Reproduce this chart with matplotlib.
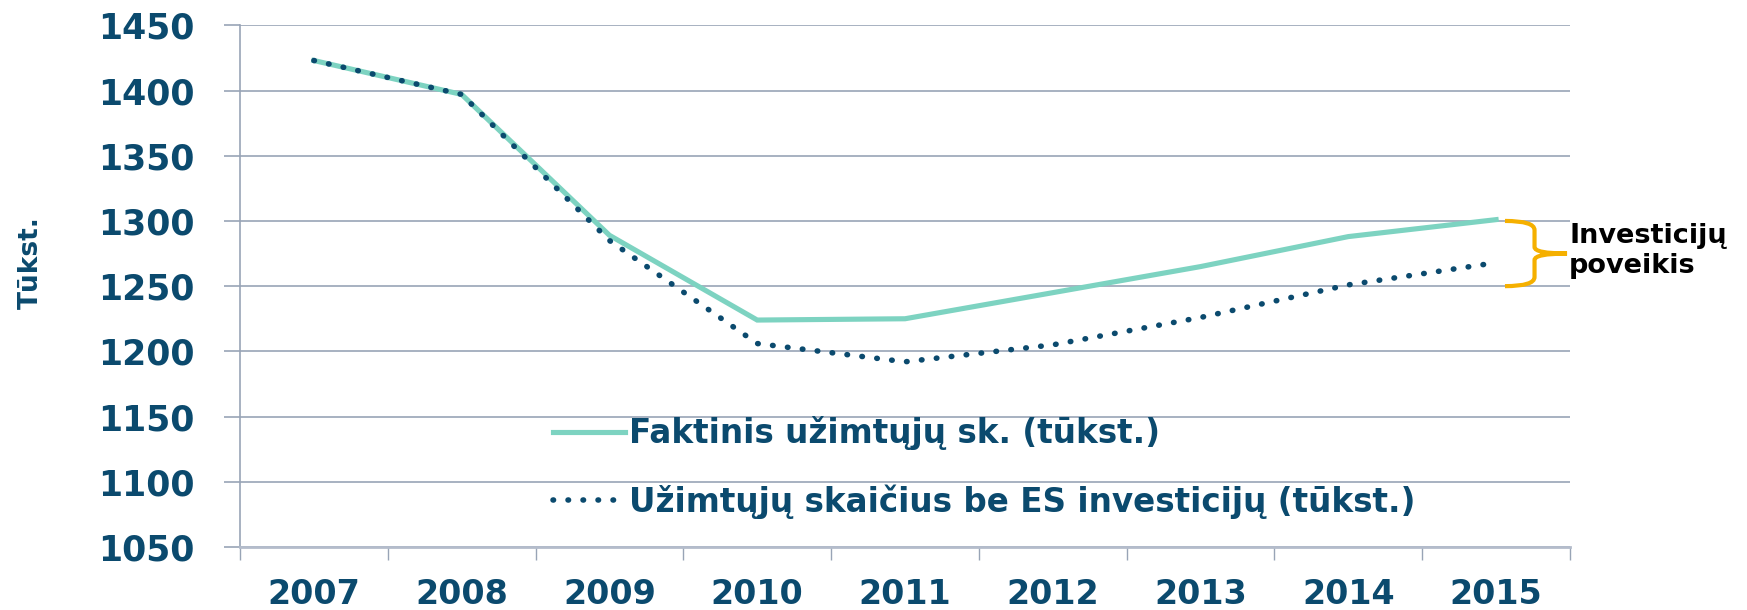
import matplotlib
matplotlib.use("Agg")
import matplotlib.pyplot as plt
from matplotlib.path import Path
from matplotlib.patches import PathPatch
from matplotlib.lines import Line2D

years = ["2007", "2008", "2009", "2010", "2011", "2012", "2013", "2014", "2015"]
faktinis = [1423, 1397, 1289, 1224, 1225, 1245, 1265, 1288, 1301]
be_es = [1423, 1397, 1285, 1206, 1192, 1205, 1226, 1251, 1268]
yticks = [1050, 1100, 1150, 1200, 1250, 1300, 1350, 1400, 1450]

label_fakt = "Faktinis užimtųjų sk. (tūkst.)"
label_be = "Užimtųjų skaičius be ES investicijų (tūkst.)"
ylabel = "Tūkst."
brace_text = "Investicijų\npoveikis"

NAVY = "#0b4a6e"
TEAL = "#7dd3c1"
GRID = "#98a4b6"
ORANGE = "#f5b000"

plt.rcParams['font.family'] = ['DejaVu Sans']

W, H = 1747, 610
fig = plt.figure(figsize=(W / 100, H / 100), dpi=100)
ax = fig.add_axes([240 / W, 1 - 547 / H, 1330 / W, (547 - 25.3) / H])

DOTS = (0, (0.1, 2.6))

x = list(range(len(years)))
ax.plot(x, faktinis, color=TEAL, lw=3.7, solid_joinstyle='miter', zorder=3)
ax.plot(x, be_es, color=NAVY, lw=4.0, linestyle=DOTS,
        dash_capstyle='round', zorder=4)

ax.set_xlim(-0.5, len(years) - 0.5)
ax.set_ylim(yticks[0], yticks[-1])

ax.set_yticks(yticks)
ax.set_yticklabels([str(v) for v in yticks])
ax.yaxis.grid(True, color=GRID, lw=1.2)
ax.set_axisbelow(True)
ax.tick_params(axis='y', length=11.5, width=1.2, color=GRID, pad=21,
               labelsize=25, labelcolor=NAVY)
for lab in ax.get_yticklabels():
    lab.set_fontweight('bold')

ax.set_xticks(x)
ax.set_xticklabels(years)
ax.set_xticks([i - 0.5 for i in range(len(years) + 1)], minor=True)
ax.tick_params(axis='x', which='major', length=0, pad=22, labelsize=24,
               labelcolor=NAVY)
ax.tick_params(axis='x', which='minor', length=9.5, width=1.0, color=GRID)
for lab in ax.get_xticklabels():
    lab.set_fontweight('bold')

for s in ['top', 'right']:
    ax.spines[s].set_visible(False)
ax.spines['left'].set_color(GRID)
ax.spines['left'].set_linewidth(1.2)
ax.spines['bottom'].set_color("#b4bccb")
ax.spines['bottom'].set_linewidth(2.0)

fig.text(31 / W, 1 - 263 / H, ylabel, rotation=90, ha='center', va='center',
         fontsize=19, fontweight='bold', color=NAVY)

handles = [
    Line2D([], [], color=TEAL, lw=3.7),
    Line2D([], [], color=NAVY, lw=4.0, linestyle=DOTS, dash_capstyle='round'),
]
leg = fig.legend(handles, [label_fakt, label_be], loc='upper left',
                 bbox_to_anchor=(553 / W, 1 - 416 / H), frameon=False,
                 borderpad=0, borderaxespad=0, handlelength=2.2,
                 handletextpad=0.12, labelspacing=1.05,
                 prop={'size': 23.5, 'weight': 'bold'})
for t in leg.get_texts():
    t.set_color(NAVY)

# brace showing the investment effect at the last year
xl = len(years) - 1
top, bot = 1300, 1250
mid = (top + bot) / 2
x0, xs, xt = xl + 0.06, xl + 0.26, xl + 0.48
verts = [
    (x0, top), (xs, top), (xs, top - 7),
    (xs, mid + 5),
    (xs, mid), (xt, mid),
    (xs, mid), (xs, mid - 5),
    (xs, bot + 7),
    (xs, bot), (x0, bot),
]
codes = [Path.MOVETO, Path.CURVE3, Path.CURVE3,
         Path.LINETO,
         Path.CURVE3, Path.CURVE3,
         Path.CURVE3, Path.CURVE3,
         Path.LINETO,
         Path.CURVE3, Path.CURVE3]
ax.add_patch(PathPatch(Path(verts, codes), facecolor='none', edgecolor=ORANGE,
                       lw=3.0, clip_on=False, zorder=5))

fig.text(1569 / W, 1 - 251 / H, brace_text, ha='left', va='center',
         fontsize=19.5, fontweight='bold', color='black', linespacing=1.2)

fig.savefig("out.png", dpi=100)
